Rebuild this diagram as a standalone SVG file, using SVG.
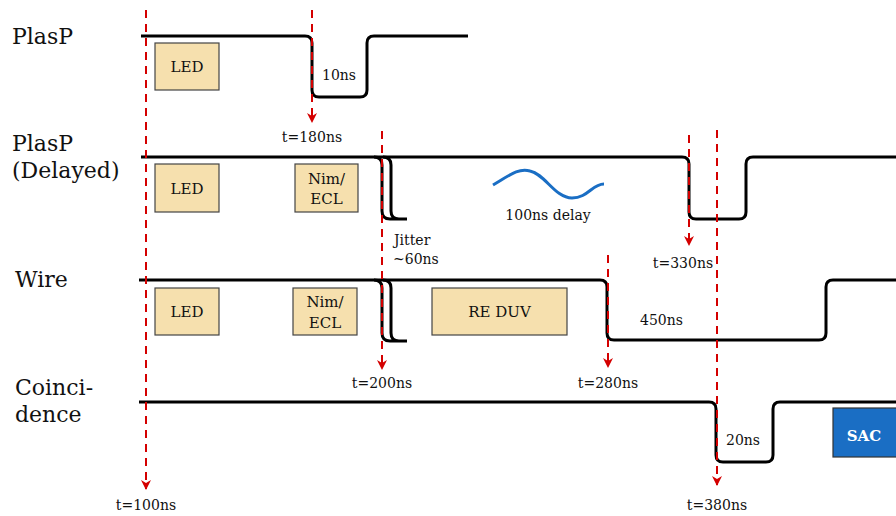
<svg xmlns="http://www.w3.org/2000/svg" width="896" height="516" viewBox="0 0 896 516">
<style>
text{font-family:"DejaVu Serif","Liberation Serif",serif;fill:#111}
.lbl{font-size:22px}
.sm{font-size:14px}
.bx{font-size:15px;text-anchor:middle}
.sig{fill:none;stroke:#000;stroke-width:3}
.box{fill:#f6e0ae;stroke:#444;stroke-width:1.2}
.red{stroke:#d40000;stroke-width:2;stroke-dasharray:8 6;fill:none}
.c{text-anchor:middle}
</style>
<defs>
<marker id="ar" viewBox="0 0 10 10" refX="9" refY="5" markerWidth="10" markerHeight="10" markerUnits="userSpaceOnUse" orient="auto">
<path d="M0,0 L10,5 L0,10 L3,5 Z" fill="#d40000"/>
</marker>
</defs>
<rect width="896" height="516" fill="#fff"/>
<g id="labels">
<text class="lbl" x="12" y="44">PlasP</text>
<text class="lbl" x="12" y="151">PlasP</text>
<text class="lbl" x="12" y="178">(Delayed)</text>
<text class="lbl" x="15" y="287">Wire</text>
<text class="lbl" x="15" y="395">Coinci-</text>
<text class="lbl" x="15" y="422">dence</text>
</g>
<g id="signals">
<path id="sig-plasp" class="sig" d="M141,36 H305 Q312,36 312,43 V90 Q312,97 319,97 H360 Q367,97 367,90 V43 Q367,36 374,36 H468"/>
<path id="sig-delayed" class="sig" d="M141,157 H682 Q689,157 689,164 V212 Q689,219 696,219 H739 Q746,219 746,212 V164 Q746,157 753,157 H896"/>
<path class="sig" d="M374,157 Q382,157 382,165 V211 Q382,219 390,219 H407 M383,157 Q391,157 391,165 V211 Q391,219 399,219 H407"/>
<path id="sig-wire" class="sig" d="M139,280 H600 Q607,280 607,287 V333 Q607,340 614,340 H819 Q826,340 826,333 V287 Q826,280 833,280 H896"/>
<path class="sig" d="M374,280 Q382,280 382,288 V333 Q382,341 390,341 H407 M383,280 Q391,280 391,288 V333 Q391,341 399,341 H407"/>
<path id="sig-coinc" class="sig" d="M139,402 H709 Q716,402 716,409 V455 Q716,462 723,462 H766 Q773,462 773,455 V409 Q773,402 780,402 H896"/>
<path id="delay-wave" d="M493,185 C510,175 518,168 530,171 C545,174 555,198 572,198 C588,198 592,184 604,184" fill="none" stroke="#1a6ec4" stroke-width="3"/>
</g>
<g id="boxes">
<g id="led1"><rect class="box" x="155" y="43" width="64" height="47"/><text class="bx" x="187" y="72">LED</text></g>
<g id="led2"><rect class="box" x="155" y="164" width="64" height="48"/><text class="bx" x="187" y="194">LED</text></g>
<g id="nim2"><rect class="box" x="295" y="164" width="63" height="48"/><text class="bx" x="326.5" y="184">Nim/</text><text class="bx" x="326.5" y="204">ECL</text></g>
<g id="led3"><rect class="box" x="155" y="288" width="64" height="47"/><text class="bx" x="187" y="317">LED</text></g>
<g id="nim3"><rect class="box" x="293" y="288" width="64" height="47"/><text class="bx" x="325" y="307">Nim/</text><text class="bx" x="325" y="328">ECL</text></g>
<g id="reduv"><rect class="box" x="432" y="288" width="135" height="47"/><text class="bx" x="499.5" y="317">RE DUV</text></g>
<g id="sac"><rect x="833" y="408" width="70" height="49" fill="#1a6ec4" stroke="#333" stroke-width="1.2"/><text class="bx" x="864" y="441" style="fill:#fff;font-weight:bold">SAC</text></g>
</g>
<g id="connectors">
<line class="red" x1="146" y1="10" x2="146" y2="489" marker-end="url(#ar)"/>
<line class="red" x1="312" y1="10" x2="312" y2="122" marker-end="url(#ar)"/>
<line class="red" x1="382" y1="131" x2="382" y2="369" marker-end="url(#ar)"/>
<line class="red" x1="689" y1="135" x2="689" y2="245" marker-end="url(#ar)"/>
<line class="red" x1="717" y1="130" x2="717" y2="485" marker-end="url(#ar)"/>
<line class="red" x1="608" y1="255" x2="608" y2="367" marker-end="url(#ar)"/>
</g>
<g id="annotations">
<text class="sm" x="322" y="80">10ns</text>
<text class="sm c" x="312" y="142">t=180ns</text>
<text class="sm c" x="548" y="220">100ns delay</text>
<text class="sm" x="394" y="245">Jitter</text>
<text class="sm" x="393" y="264">~60ns</text>
<text class="sm c" x="683" y="268">t=330ns</text>
<text class="sm c" x="382" y="388">t=200ns</text>
<text class="sm c" x="608" y="388">t=280ns</text>
<text class="sm" x="640" y="325">450ns</text>
<text class="sm" x="726" y="445">20ns</text>
<text class="sm c" x="146" y="510">t=100ns</text>
<text class="sm c" x="717" y="510">t=380ns</text>
</g>
</svg>
